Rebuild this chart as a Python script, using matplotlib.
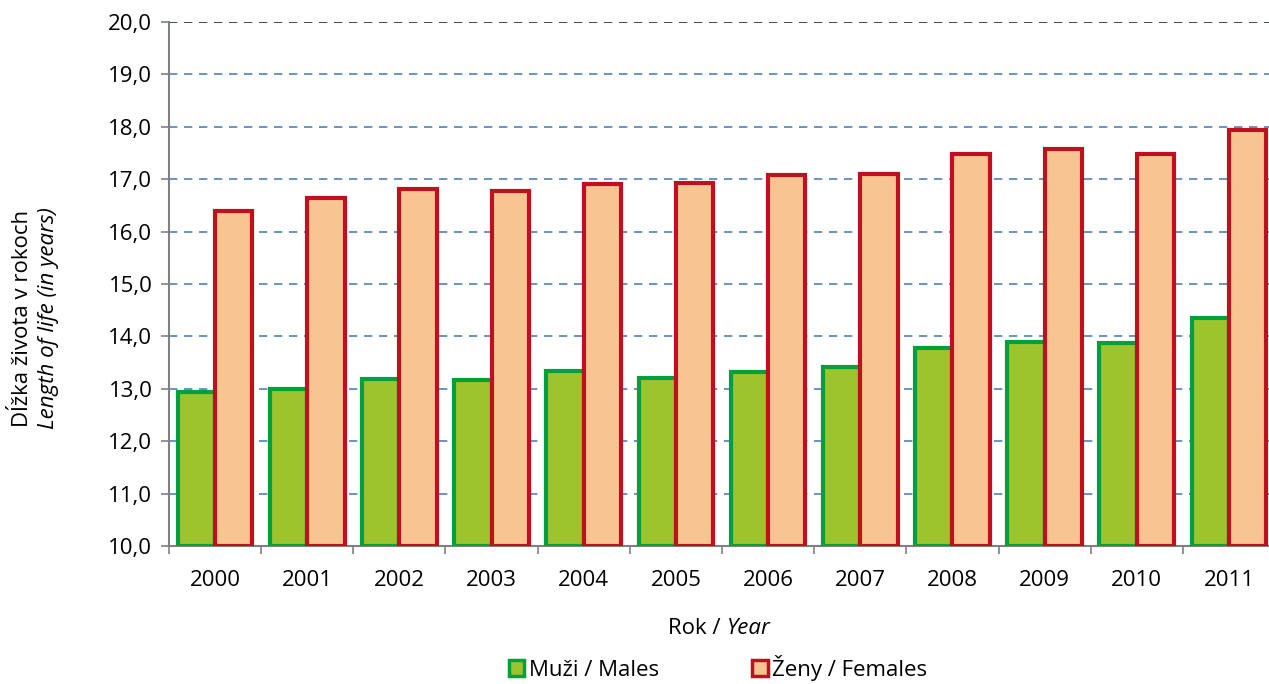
import matplotlib.pyplot as plt
import numpy as np
from matplotlib.patches import Patch

years = ["2000", "2001", "2002", "2003", "2004", "2005",
         "2006", "2007", "2008", "2009", "2010", "2011"]
males = [12.93, 13.00, 13.19, 13.17, 13.34, 13.20,
         13.33, 13.42, 13.78, 13.89, 13.87, 14.36]
females = [16.39, 16.64, 16.81, 16.78, 16.90, 16.92,
           17.08, 17.10, 17.49, 17.57, 17.48, 17.94]

green_fill = "#9dc32d"
green_edge = "#00a03a"
red_fill = "#f8c592"
red_edge = "#c00f1f"

plt.rcParams['font.family'] = ['Open Sans', 'DejaVu Sans']

fig = plt.figure(figsize=(12.69, 6.84), dpi=100)
ax = fig.add_axes([169 / 1269, 1 - 546 / 684, 1106 / 1269, 524 / 684])

x = np.arange(len(years))
w = 0.405
ax.bar(x - w / 2, [m - 10 for m in males], w, bottom=10, color=green_fill,
       edgecolor=green_edge, linewidth=3, zorder=3)
ax.bar(x + w / 2, [f - 10 for f in females], w, bottom=10, color=red_fill,
       edgecolor=red_edge, linewidth=3, zorder=3)

ax.set_xlim(-0.5, len(years) - 0.5)
ax.set_ylim(10, 20)
ax.set_yticks(np.arange(10, 20.5, 1))
ax.set_yticklabels(["%d,0" % v for v in range(10, 21)], fontsize=16)
for v in range(11, 20):
    ax.axhline(v, color="#4f81bd", linestyle=(0, (5, 4)), linewidth=1.2, zorder=1)
ax.axhline(20, color="#1f2d3d", linestyle=(0, (5, 4)), linewidth=1.2, zorder=1)

ax.set_xticks(x)
ax.set_xticklabels(years, fontsize=16)
ax.set_xticks(np.arange(-0.5, len(years)), minor=True)
ax.tick_params(axis="x", which="major", length=0, pad=17)
ax.tick_params(axis="x", which="minor", length=6, color="#808080", width=1.2)
ax.tick_params(axis="y", length=6, color="#808080", width=1.2, pad=6)

for s in ["top", "right"]:
    ax.spines[s].set_visible(False)
for s in ["left", "bottom"]:
    ax.spines[s].set_color("#808080")
    ax.spines[s].set_linewidth(1.5)

fig.text(0.5 + 92 / 1269, 1 - 628 / 684, "Rok / ", ha="right", va="center", fontsize=16)
fig.text(0.5 + 92 / 1269, 1 - 628 / 684, "Year", ha="left", va="center", fontsize=16, style="italic")

fig.text(22 / 1269, 1 - 318 / 684, "Dĺžka života v rokoch", rotation=90,
         ha="center", va="center", fontsize=16)
fig.text(49 / 1269, 1 - 318 / 684, "Length of life (in years)", rotation=90,
         ha="center", va="center", fontsize=16, style="italic")

handles = [Patch(facecolor=green_fill, edgecolor=green_edge, linewidth=2.5, label="Muži / Males"),
           Patch(facecolor=red_fill, edgecolor=red_edge, linewidth=2.5, label="Ženy / Females")]
fig.legend(handles=handles, loc="center", bbox_to_anchor=(718 / 1269, 1 - 668 / 684), ncol=2,
           frameon=False, fontsize=16, handlelength=0.7, handleheight=0.7,
           handletextpad=0.2, columnspacing=4.2)

fig.savefig("out.png", dpi=100)
